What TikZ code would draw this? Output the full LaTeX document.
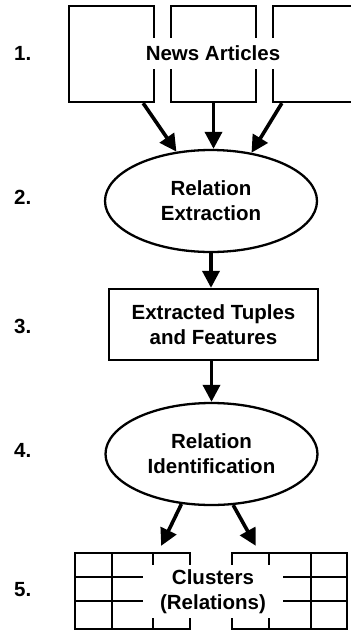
\documentclass[tikz,border=0pt]{standalone}
\usepackage{fontspec}
\setmainfont{Liberation Sans}
\usetikzlibrary{shapes.geometric,arrows.meta}

\begin{document}
\begin{tikzpicture}[x=1pt,y=-1pt,
  lbl/.style={font=\fontsize{20.5}{25}\selectfont\bfseries, align=center, inner sep=0pt},
  doc/.style={draw, line width=2.3pt, minimum width=85pt, minimum height=96pt, inner sep=0pt},
  oval/.style={draw, ellipse, line width=2.3pt, minimum width=212pt, minimum height=102pt,
               inner sep=0pt, lbl},
  stagebox/.style={draw, line width=2.3pt, minimum width=209pt, minimum height=71pt, lbl},
  flow/.style={line width=3.6pt, -{Triangle[width=17pt,length=17pt]}},
  gridline/.style={line width=2.3pt}]
\useasboundingbox (0,0) rectangle (351,633);
\clip (0,0) rectangle (351,633);

% step numbers
\node[lbl, anchor=west] (n1) at (14,53)  {1.};
\node[lbl, anchor=west] (n2) at (14,197) {2.};
\node[lbl, anchor=west] (n3) at (14,326) {3.};
\node[lbl, anchor=west] (n4) at (14,450) {4.};
\node[lbl, anchor=west] (n5) at (14,590) {5.};

% stack of news documents
\node[doc] (a1) at (111.5,54) {};
\node[doc] (a2) at (213.5,54) {};
\node[doc] (a3) at (315.5,54) {};
\node[lbl, fill=white, minimum width=136pt, minimum height=31pt] (news) at (213,53) {News Articles};

% processing stages
\node[oval] (e1) at (211,201) {Relation\\Extraction};
\node[stagebox] (bx) at (213.5,324.5) {Extracted Tuples\\and Features};
\node[oval] (e2) at (211.5,454) {Relation\\Identification};

% cluster tables
\node[draw, gridline, minimum width=115pt, minimum height=76pt, inner sep=0pt] (g1) at (132.5,591) {};
\node[draw, gridline, minimum width=115pt, minimum height=76pt, inner sep=0pt] (g2) at (289.5,591) {};
\draw[gridline] (112,553) -- (112,629) (153,553) -- (153,629)
                (75,577) -- (190,577) (75,601) -- (190,601);
\draw[gridline] (269,553) -- (269,629) (311,553) -- (311,629)
                (232,577) -- (347,577) (232,601) -- (347,601);
\node[lbl, fill=white, minimum width=140pt, minimum height=53pt] (cl) at (213,591.5) {Clusters\\(Relations)};

% connectors
\coordinate (t1) at ([xshift=-30pt,yshift=6pt]g1.north east);
\coordinate (t2) at ([xshift=25pt,yshift=6pt]g2.north west);
\draw[flow] ([xshift=-12pt]a1.south east) -- (e1.125);
\draw[flow] (a2.south) -- (a2.south |- e1.north);
\draw[flow] ([xshift=10pt]a3.south west) -- (e1.50);
\draw[flow] (e1.south) -- (e1.south |- bx.north);
\draw[flow] (e2.north |- bx.south) -- (e2.north);
\draw[flow] (e2.239) -- (t1);
\draw[flow] (e2.293) -- (t2);
\end{tikzpicture}
\end{document}
